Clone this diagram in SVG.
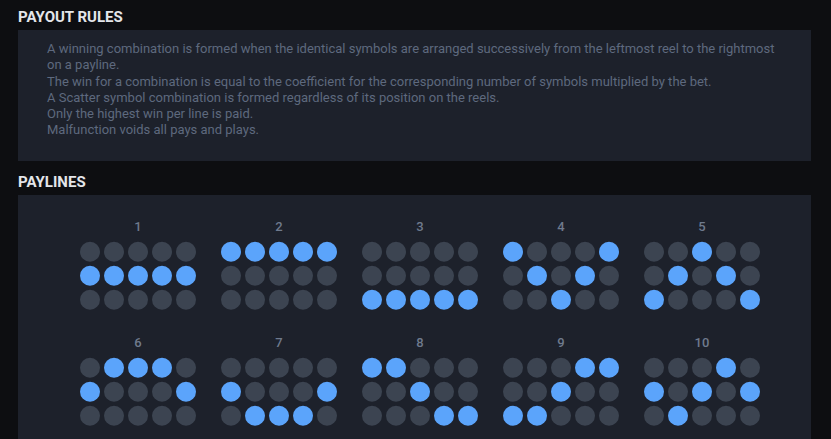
<svg xmlns="http://www.w3.org/2000/svg" width="831" height="439" viewBox="0 0 831 439">
<defs>
<style>
.bg{fill:#0d0e11}
.panel{fill:#1d212b}
.h{font-family:Roboto,"Liberation Sans",sans-serif;font-weight:700;font-size:15px;fill:#e4e6ea}
.t{font-family:Roboto,"Liberation Sans",sans-serif;font-size:13px;fill:#5e697e}
.n{font-family:Roboto,"Liberation Sans",sans-serif;font-weight:500;font-size:13px;fill:#6f7a8d;text-anchor:middle}
.off{fill:#3c4451}
.on{fill:#5ba4fb}
</style>
<circle id="c" r="10"/>
</defs>
<rect class="bg" x="0" y="0" width="831" height="439"/>
<text class="h" x="18" y="22">PAYOUT RULES</text>
<rect class="panel" x="18" y="30" width="793" height="131"/>
<g id="rules">
<text class="t" x="47" y="53.3">A winning combination is formed when the identical symbols are arranged successively from the leftmost reel to the rightmost</text>
<text class="t" x="47" y="69.3">on a payline.</text>
<text class="t" x="47" y="85.5">The win for a combination is equal to the coefficient for the corresponding number of symbols multiplied by the bet.</text>
<text class="t" x="47" y="101.7">A Scatter symbol combination is formed regardless of its position on the reels.</text>
<text class="t" x="47" y="118">Only the highest win per line is paid.</text>
<text class="t" x="47" y="134.3">Malfunction voids all pays and plays.</text>
</g>
<text class="h" x="18" y="186.5">PAYLINES</text>
<rect class="panel" x="18" y="195" width="793" height="250"/>

<g id="line1" transform="translate(90,251.7)">
<text class="n" x="48" y="-20.7">1</text>
<use href="#c" class="off" x="0" y="0"/><use href="#c" class="off" x="24" y="0"/><use href="#c" class="off" x="48" y="0"/><use href="#c" class="off" x="72" y="0"/><use href="#c" class="off" x="96" y="0"/>
<use href="#c" class="on" x="0" y="24"/><use href="#c" class="on" x="24" y="24"/><use href="#c" class="on" x="48" y="24"/><use href="#c" class="on" x="72" y="24"/><use href="#c" class="on" x="96" y="24"/>
<use href="#c" class="off" x="0" y="48"/><use href="#c" class="off" x="24" y="48"/><use href="#c" class="off" x="48" y="48"/><use href="#c" class="off" x="72" y="48"/><use href="#c" class="off" x="96" y="48"/>
</g>
<g id="line2" transform="translate(231,251.7)">
<text class="n" x="48" y="-20.7">2</text>
<use href="#c" class="on" x="0" y="0"/><use href="#c" class="on" x="24" y="0"/><use href="#c" class="on" x="48" y="0"/><use href="#c" class="on" x="72" y="0"/><use href="#c" class="on" x="96" y="0"/>
<use href="#c" class="off" x="0" y="24"/><use href="#c" class="off" x="24" y="24"/><use href="#c" class="off" x="48" y="24"/><use href="#c" class="off" x="72" y="24"/><use href="#c" class="off" x="96" y="24"/>
<use href="#c" class="off" x="0" y="48"/><use href="#c" class="off" x="24" y="48"/><use href="#c" class="off" x="48" y="48"/><use href="#c" class="off" x="72" y="48"/><use href="#c" class="off" x="96" y="48"/>
</g>
<g id="line3" transform="translate(372,251.7)">
<text class="n" x="48" y="-20.7">3</text>
<use href="#c" class="off" x="0" y="0"/><use href="#c" class="off" x="24" y="0"/><use href="#c" class="off" x="48" y="0"/><use href="#c" class="off" x="72" y="0"/><use href="#c" class="off" x="96" y="0"/>
<use href="#c" class="off" x="0" y="24"/><use href="#c" class="off" x="24" y="24"/><use href="#c" class="off" x="48" y="24"/><use href="#c" class="off" x="72" y="24"/><use href="#c" class="off" x="96" y="24"/>
<use href="#c" class="on" x="0" y="48"/><use href="#c" class="on" x="24" y="48"/><use href="#c" class="on" x="48" y="48"/><use href="#c" class="on" x="72" y="48"/><use href="#c" class="on" x="96" y="48"/>
</g>
<g id="line4" transform="translate(513,251.7)">
<text class="n" x="48" y="-20.7">4</text>
<use href="#c" class="on" x="0" y="0"/><use href="#c" class="off" x="24" y="0"/><use href="#c" class="off" x="48" y="0"/><use href="#c" class="off" x="72" y="0"/><use href="#c" class="on" x="96" y="0"/>
<use href="#c" class="off" x="0" y="24"/><use href="#c" class="on" x="24" y="24"/><use href="#c" class="off" x="48" y="24"/><use href="#c" class="on" x="72" y="24"/><use href="#c" class="off" x="96" y="24"/>
<use href="#c" class="off" x="0" y="48"/><use href="#c" class="off" x="24" y="48"/><use href="#c" class="on" x="48" y="48"/><use href="#c" class="off" x="72" y="48"/><use href="#c" class="off" x="96" y="48"/>
</g>
<g id="line5" transform="translate(654,251.7)">
<text class="n" x="48" y="-20.7">5</text>
<use href="#c" class="off" x="0" y="0"/><use href="#c" class="off" x="24" y="0"/><use href="#c" class="on" x="48" y="0"/><use href="#c" class="off" x="72" y="0"/><use href="#c" class="off" x="96" y="0"/>
<use href="#c" class="off" x="0" y="24"/><use href="#c" class="on" x="24" y="24"/><use href="#c" class="off" x="48" y="24"/><use href="#c" class="on" x="72" y="24"/><use href="#c" class="off" x="96" y="24"/>
<use href="#c" class="on" x="0" y="48"/><use href="#c" class="off" x="24" y="48"/><use href="#c" class="off" x="48" y="48"/><use href="#c" class="off" x="72" y="48"/><use href="#c" class="on" x="96" y="48"/>
</g>

<g id="line6" transform="translate(90,367.7)">
<text class="n" x="48" y="-20.7">6</text>
<use href="#c" class="off" x="0" y="0"/><use href="#c" class="on" x="24" y="0"/><use href="#c" class="on" x="48" y="0"/><use href="#c" class="on" x="72" y="0"/><use href="#c" class="off" x="96" y="0"/>
<use href="#c" class="on" x="0" y="24"/><use href="#c" class="off" x="24" y="24"/><use href="#c" class="off" x="48" y="24"/><use href="#c" class="off" x="72" y="24"/><use href="#c" class="on" x="96" y="24"/>
<use href="#c" class="off" x="0" y="48"/><use href="#c" class="off" x="24" y="48"/><use href="#c" class="off" x="48" y="48"/><use href="#c" class="off" x="72" y="48"/><use href="#c" class="off" x="96" y="48"/>
</g>
<g id="line7" transform="translate(231,367.7)">
<text class="n" x="48" y="-20.7">7</text>
<use href="#c" class="off" x="0" y="0"/><use href="#c" class="off" x="24" y="0"/><use href="#c" class="off" x="48" y="0"/><use href="#c" class="off" x="72" y="0"/><use href="#c" class="off" x="96" y="0"/>
<use href="#c" class="on" x="0" y="24"/><use href="#c" class="off" x="24" y="24"/><use href="#c" class="off" x="48" y="24"/><use href="#c" class="off" x="72" y="24"/><use href="#c" class="on" x="96" y="24"/>
<use href="#c" class="off" x="0" y="48"/><use href="#c" class="on" x="24" y="48"/><use href="#c" class="on" x="48" y="48"/><use href="#c" class="on" x="72" y="48"/><use href="#c" class="off" x="96" y="48"/>
</g>
<g id="line8" transform="translate(372,367.7)">
<text class="n" x="48" y="-20.7">8</text>
<use href="#c" class="on" x="0" y="0"/><use href="#c" class="on" x="24" y="0"/><use href="#c" class="off" x="48" y="0"/><use href="#c" class="off" x="72" y="0"/><use href="#c" class="off" x="96" y="0"/>
<use href="#c" class="off" x="0" y="24"/><use href="#c" class="off" x="24" y="24"/><use href="#c" class="on" x="48" y="24"/><use href="#c" class="off" x="72" y="24"/><use href="#c" class="off" x="96" y="24"/>
<use href="#c" class="off" x="0" y="48"/><use href="#c" class="off" x="24" y="48"/><use href="#c" class="off" x="48" y="48"/><use href="#c" class="on" x="72" y="48"/><use href="#c" class="on" x="96" y="48"/>
</g>
<g id="line9" transform="translate(513,367.7)">
<text class="n" x="48" y="-20.7">9</text>
<use href="#c" class="off" x="0" y="0"/><use href="#c" class="off" x="24" y="0"/><use href="#c" class="off" x="48" y="0"/><use href="#c" class="on" x="72" y="0"/><use href="#c" class="on" x="96" y="0"/>
<use href="#c" class="off" x="0" y="24"/><use href="#c" class="off" x="24" y="24"/><use href="#c" class="on" x="48" y="24"/><use href="#c" class="off" x="72" y="24"/><use href="#c" class="off" x="96" y="24"/>
<use href="#c" class="on" x="0" y="48"/><use href="#c" class="on" x="24" y="48"/><use href="#c" class="off" x="48" y="48"/><use href="#c" class="off" x="72" y="48"/><use href="#c" class="off" x="96" y="48"/>
</g>
<g id="line10" transform="translate(654,367.7)">
<text class="n" x="48" y="-20.7">10</text>
<use href="#c" class="off" x="0" y="0"/><use href="#c" class="off" x="24" y="0"/><use href="#c" class="off" x="48" y="0"/><use href="#c" class="on" x="72" y="0"/><use href="#c" class="off" x="96" y="0"/>
<use href="#c" class="on" x="0" y="24"/><use href="#c" class="off" x="24" y="24"/><use href="#c" class="on" x="48" y="24"/><use href="#c" class="off" x="72" y="24"/><use href="#c" class="on" x="96" y="24"/>
<use href="#c" class="off" x="0" y="48"/><use href="#c" class="on" x="24" y="48"/><use href="#c" class="off" x="48" y="48"/><use href="#c" class="off" x="72" y="48"/><use href="#c" class="off" x="96" y="48"/>
</g>
</svg>
